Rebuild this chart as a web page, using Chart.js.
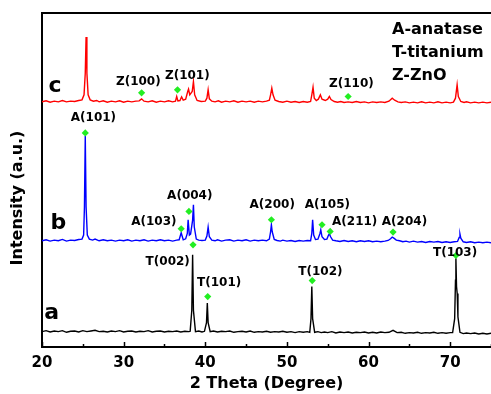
<!DOCTYPE html>
<html>
<head>
<meta charset="utf-8">
<script src="https://cdn.jsdelivr.net/npm/chart.js"></script>
<style>
  html, body { margin: 0; padding: 0; background: #fff; overflow: hidden; }
  #wrap { width: 491px; height: 394px; position: relative; }
  canvas { display: block; }
</style>
</head>
<body>
<div id="wrap"><canvas id="c" width="491" height="394"></canvas></div>
<script>
// ---- data (2θ in degrees, intensity in arbitrary offset units) ----
const xTicks = [20, 30, 40, 50, 60, 70];

const traceA = [[20,4.6],[20.5,4.9],[21,4.5],[21.5,4.8],[22,4.6],[22.5,4.9],[23,4.4],[23.5,4.7],[24,4.8],[24.5,4.5],[25,4.9],[25.5,4.6],[26,4.8],[26.5,5.0],[27,4.6],[27.5,4.7],[28,4.5],[28.5,4.8],[29,4.6],[29.5,4.9],[30,4.5],[30.5,4.7],[31,4.8],[31.5,4.5],[32,4.7],[32.5,4.6],[33,4.9],[33.5,4.5],[34,4.7],[34.5,4.8],[35,4.5],[35.5,4.7],[36,4.6],[36.5,4.8],[37,4.5],[37.5,4.7],[38,4.6],[38.15,4.7],[38.35,11.0],[38.45,27.6],[38.55,11.0],[38.8,4.6],[39.2,4.8],[39.6,4.5],[39.9,4.7],[40.15,7.3],[40.25,13.2],[40.35,7.3],[40.6,4.6],[41,4.8],[41.5,4.5],[42,4.7],[42.5,4.6],[43,4.8],[43.5,4.4],[44,4.6],[44.5,4.7],[45,4.5],[45.5,4.8],[46,4.4],[46.5,4.6],[47,4.5],[47.5,4.7],[48,4.4],[48.5,4.6],[49,4.5],[49.5,4.7],[50,4.4],[50.5,4.6],[51,4.3],[51.5,4.6],[52,4.4],[52.5,4.6],[52.8,4.4],[52.95,8.5],[53.05,18.1],[53.15,8.5],[53.4,4.4],[53.8,4.6],[54.2,4.3],[54.6,4.5],[55,4.3],[55.5,4.6],[56,4.2],[56.5,4.5],[57,4.3],[57.5,4.5],[58,4.2],[58.5,4.4],[59,4.3],[59.5,4.5],[60,4.2],[60.5,4.4],[61,4.2],[61.5,4.5],[62,4.3],[62.5,4.4],[63,5.0],[63.5,4.3],[64,4.4],[64.5,4.1],[65,4.3],[65.5,4.2],[66,4.4],[66.5,4.1],[67,4.3],[67.5,4.2],[68,4.4],[68.5,4.1],[69,4.3],[69.5,4.1],[70,4.3],[70.3,4.3],[70.55,8.5],[70.65,20.0],[70.7,26.6],[70.78,18.0],[70.86,16.0],[70.95,9.0],[71.2,4.4],[71.6,4.0],[72,4.2],[72.5,4.0],[73,4.2],[73.5,3.9],[74,4.1],[74.5,3.9],[75,4.1]];

const traceB = [[20,31.8],[20.5,32.1],[21,31.7],[21.5,32.0],[22,31.8],[22.5,32.2],[23,31.7],[23.5,32.0],[24,31.9],[24.5,32.2],[24.9,32.3],[25.1,33.5],[25.2,42.0],[25.3,63.2],[25.4,42.0],[25.55,33.5],[25.8,32.3],[26.2,32.0],[26.5,32.3],[27,31.8],[27.5,32.1],[28,31.8],[28.5,32.0],[29,31.7],[29.5,32.0],[30,31.8],[30.5,32.1],[31,31.7],[31.5,32.0],[32,31.8],[32.5,32.1],[33,31.7],[33.5,32.0],[34,31.8],[34.5,32.1],[35,31.8],[35.5,32.0],[36,31.7],[36.5,32.0],[36.8,32.1],[37.05,34.2],[37.3,32.1],[37.6,32.4],[37.8,34.0],[37.9,38.1],[38.05,33.5],[38.2,33.8],[38.45,38.0],[38.55,42.6],[38.65,36.0],[38.9,32.3],[39.2,32.0],[39.6,31.9],[40.0,32.0],[40.2,33.2],[40.35,35.9],[40.5,33.0],[40.8,32.0],[41.2,31.8],[41.5,32.1],[42,31.7],[42.5,32.0],[43,32.1],[43.5,31.7],[44,32.0],[44.5,31.8],[45,32.1],[45.5,31.7],[46,32.0],[46.5,31.8],[47,32.0],[47.5,31.8],[47.85,32.3],[48.0,34.5],[48.1,36.6],[48.2,34.5],[48.45,32.2],[48.8,31.9],[49.2,31.7],[49.5,32.0],[50,31.7],[50.5,31.9],[51,31.6],[51.5,31.9],[52,31.7],[52.5,31.9],[52.9,31.8],[53.05,34.0],[53.15,38.1],[53.28,33.5],[53.5,32.2],[53.8,32.3],[54.05,34.0],[54.15,35.1],[54.3,33.0],[54.6,32.2],[54.9,32.3],[55.1,33.5],[55.2,33.9],[55.35,33.0],[55.6,32.0],[56,31.8],[56.5,31.6],[57,31.9],[57.5,31.6],[58,31.8],[58.5,31.5],[59,31.8],[59.5,31.6],[60,31.8],[60.5,31.5],[61,31.7],[61.5,31.5],[62,31.7],[62.4,31.9],[62.7,32.4],[62.9,32.9],[63.1,32.6],[63.4,32.0],[63.8,31.8],[64.2,31.5],[64.6,31.7],[65,31.4],[65.5,31.7],[66,31.4],[66.5,31.6],[67,31.3],[67.5,31.6],[68,31.4],[68.5,31.6],[69,31.3],[69.5,31.5],[70,31.3],[70.5,31.5],[70.9,31.6],[71.1,32.8],[71.2,33.8],[71.3,32.6],[71.6,31.5],[72,31.3],[72.5,31.5],[73,31.2],[73.5,31.4],[74,31.2],[74.5,31.4],[75,31.2]];

const traceC = [[20,73.4],[20.5,73.7],[21,73.3],[21.5,73.6],[22,73.4],[22.5,73.8],[23,73.4],[23.5,73.6],[24,73.5],[24.5,73.8],[24.9,74.0],[25.15,75.5],[25.3,82.0],[25.4,92.8],[25.5,82.0],[25.65,75.5],[25.9,74.0],[26.3,73.6],[26.7,73.8],[27,73.4],[27.5,73.7],[28,73.3],[28.5,73.6],[29,73.4],[29.5,73.7],[30,73.3],[30.5,73.6],[31,73.4],[31.5,73.6],[31.9,73.7],[32.2,74.3],[32.5,73.6],[33,73.4],[33.5,73.7],[34,73.3],[34.5,73.6],[35,73.4],[35.5,73.7],[36,73.4],[36.35,73.6],[36.5,75.0],[36.65,73.7],[36.9,73.8],[37.1,74.9],[37.3,73.9],[37.6,74.2],[37.85,76.5],[37.95,77.2],[38.1,75.5],[38.4,76.5],[38.55,79.5],[38.7,75.5],[39,73.8],[39.5,73.5],[40.0,73.6],[40.2,74.5],[40.35,77.0],[40.5,74.3],[40.8,73.6],[41.2,73.4],[41.6,73.7],[42,73.3],[42.5,73.6],[43,73.4],[43.5,73.7],[44,73.3],[44.5,73.6],[45,73.4],[45.5,73.6],[46,73.3],[46.5,73.6],[47,73.4],[47.5,73.6],[47.85,73.9],[48.0,75.5],[48.15,77.5],[48.3,75.5],[48.55,73.9],[49,73.5],[49.5,73.3],[50,73.6],[50.5,73.3],[51,73.5],[51.5,73.2],[52,73.5],[52.5,73.3],[52.9,73.5],[53.05,75.5],[53.2,77.8],[53.35,74.5],[53.6,73.8],[53.85,74.2],[54.1,75.5],[54.3,74.2],[54.7,73.8],[55.0,74.2],[55.2,75.0],[55.4,74.1],[55.8,73.5],[56.2,73.3],[56.6,73.5],[57,73.2],[57.5,73.4],[58,73.2],[58.5,73.5],[59,73.2],[59.5,73.4],[60,73.1],[60.5,73.4],[61,73.2],[61.5,73.4],[62,73.2],[62.5,73.6],[62.9,74.5],[63.2,73.9],[63.6,73.4],[64,73.2],[64.5,73.4],[65,73.1],[65.5,73.3],[66,73.1],[66.5,73.4],[67,73.1],[67.5,73.3],[68,73.1],[68.5,73.4],[69,73.1],[69.5,73.3],[70,73.1],[70.4,73.3],[70.65,74.5],[70.85,78.5],[71.0,75.0],[71.3,73.5],[71.7,73.2],[72,73.4],[72.5,73.1],[73,73.3],[73.5,73.1],[74,73.3],[74.5,73.1],[75,73.3]];

// peak markers (green diamonds)
const markerTheta = [32.2, 36.6, 57.5, 25.3, 37.05, 38.0, 38.5, 48.1, 54.3, 55.3, 63.0, 40.3, 53.1, 70.7];
const markerValue = [76.1, 77.0, 75.0, 64.1, 35.4, 40.6, 30.6, 38.1, 36.6, 34.6, 34.4, 15.1, 19.9, 27.4];

// peak labels (text centre, in data units)
const peakLabels = ['Z(100)', 'Z(101)', 'Z(110)', 'A(101)', 'A(004)', 'A(103)', 'A(200)', 'A(105)', 'A(211)', 'A(204)', 'T(002)', 'T(101)', 'T(102)', 'T(103)'];
const peakLabelTheta = [31.8, 37.8, 57.9, 26.3, 38.1, 33.7, 48.2, 54.95, 58.3, 64.4, 35.4, 41.7, 54.1, 70.6];
const peakLabelValue = [79.5, 81.2, 78.7, 68.6, 45.1, 37.6, 42.6, 42.6, 37.4, 37.4, 25.6, 19.2, 22.6, 28.1];

// curve letters
const curveNames = ['c', 'b', 'a'];
const curveNameTheta = [21.6, 22.0, 21.2];
const curveNameValue = [78.0, 37.1, 10.2];

const phaseKey = ['A-anatase', 'T-titanium', 'Z-ZnO'];

// ---- chart ----
const FONT = "'DejaVu Sans', 'Liberation Sans', sans-serif";
Chart.defaults.font.family = FONT;
Chart.defaults.font.weight = 'bold';
Chart.defaults.color = '#000';

const toXY = arr => arr.map(p => ({ x: p[0], y: p[1] }));

const decorPlugin = {
  id: 'decor',
  afterDraw(chart) {
    const ctx = chart.ctx;
    const xs = chart.scales.x, ys = chart.scales.y;
    const ca = chart.chartArea;
    ctx.save();
    // top frame line
    ctx.strokeStyle = '#000';
    ctx.lineWidth = 2;
    ctx.beginPath();
    ctx.moveTo(ca.left - 1, ca.top);
    ctx.lineTo(ca.right + 2, ca.top);
    ctx.stroke();
    // inward ticks
    ctx.lineWidth = 1.5;
    for (let v = 20; v <= 75; v += 5) {
      const px = Math.round(xs.getPixelForValue(v)) + 0.5;
      const len = (v % 10 === 0) ? 5 : 3;
      ctx.beginPath();
      ctx.moveTo(px, ca.bottom);
      ctx.lineTo(px, ca.bottom - len);
      ctx.stroke();
    }
    // peak labels
    ctx.fillStyle = '#000';
    ctx.textAlign = 'center';
    ctx.textBaseline = 'middle';
    ctx.font = 'bold 12px ' + FONT;
    peakLabels.forEach((t, i) => {
      ctx.fillText(t, xs.getPixelForValue(peakLabelTheta[i]), ys.getPixelForValue(peakLabelValue[i]));
    });
    // curve names
    ctx.font = 'bold 22px ' + FONT;
    curveNames.forEach((t, i) => {
      ctx.fillText(t, xs.getPixelForValue(curveNameTheta[i]), ys.getPixelForValue(curveNameValue[i]));
    });
    // phase key
    ctx.textAlign = 'left';
    ctx.font = 'bold 16px ' + FONT;
    phaseKey.forEach((t, i) => {
      ctx.fillText(t, 392, ca.top + 16.5 + i * 23.3);
    });
    // y-axis title
    ctx.font = 'bold 16px ' + FONT;
    ctx.textAlign = 'center';
    ctx.translate(18, 198);
    ctx.rotate(-Math.PI / 2);
    ctx.fillText('Intensity (a.u.)', 0, 0);
    ctx.restore();
  }
};

new Chart(document.getElementById('c'), {
  type: 'line',
  data: {
    datasets: [
      { label: 'markers', type: 'scatter', data: markerTheta.map((x, i) => ({ x, y: markerValue[i] })),
        pointStyle: 'rectRot', pointRadius: 3.6, pointBackgroundColor: '#22ee22', pointBorderWidth: 0,
        showLine: false, order: 0, clip: false },
      { label: 'c', data: toXY(traceC), borderColor: '#ff0000', borderWidth: 1.4, pointRadius: 0, tension: 0, order: 1 },
      { label: 'b', data: toXY(traceB), borderColor: '#0000ff', borderWidth: 1.4, pointRadius: 0, tension: 0, order: 2 },
      { label: 'a', data: toXY(traceA), borderColor: '#000000', borderWidth: 1.4, pointRadius: 0, tension: 0, order: 3 }
    ]
  },
  options: {
    responsive: false,
    animation: false,
    layout: { autoPadding: false, padding: { top: 13, right: 0, bottom: 0, left: 0 } },
    plugins: { legend: { display: false }, tooltip: { enabled: false } },
    scales: {
      x: {
        type: 'linear', position: 'bottom', min: 20, max: 75,
        afterFit: s => { s.height = 47; s.paddingLeft = 0; s.paddingRight = 0; },
        afterBuildTicks: s => { s.ticks = xTicks.map(v => ({ value: v })); },
        ticks: { font: { size: 15, weight: 'bold' }, color: '#000', padding: 7, maxRotation: 0, autoSkip: false },
        grid: { display: false, drawTicks: false },
        border: { display: true, color: '#000', width: 2 },
        title: { display: true, text: '2 Theta (Degree)', color: '#000', font: { size: 16, weight: 'bold' }, padding: { top: 0, bottom: 1 } }
      },
      y: {
        type: 'linear', min: 0, max: 100,
        afterFit: s => { s.width = 42; s.paddingTop = 0; s.paddingBottom = 0; },
        ticks: { display: false },
        grid: { display: false, drawTicks: false },
        border: { display: true, color: '#000', width: 2 }
      }
    }
  },
  plugins: [decorPlugin]
});
</script>
</body>
</html>
